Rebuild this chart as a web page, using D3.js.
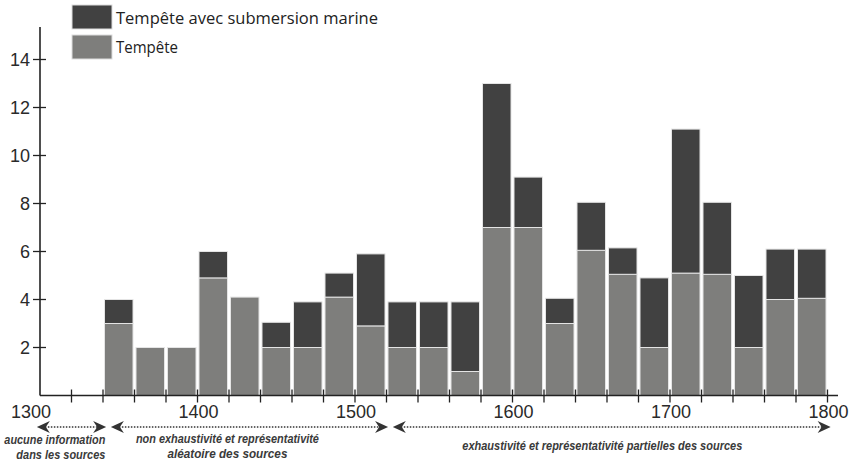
<!DOCTYPE html>
<html>
  <head>
    <meta charset="utf-8">
    <style>
    body { margin: 0; background: #fff; }
    #chart-area svg { display: block; }
    .tick-label { font-family: "Liberation Sans", Arial, sans-serif; font-size: 18px; fill: #2a2a2a; }
    .legend-label { font-family: "Open Sans", "Noto Sans", sans-serif; font-size: 16px; fill: #222; }
    .note { font-family: "Liberation Sans", Arial, sans-serif; font-size: 13px;
            font-weight: bold; font-style: italic; fill: #3a3a3a; }
    </style>
  </head>
  <body>
    <div id="chart-area"></div>

    <script src="https://d3js.org/d3.v7.min.js"></script>
    <script>
      // 20-year periods (start year)
      const periods = [1340, 1360, 1380, 1400, 1420, 1440, 1460, 1480, 1500, 1520, 1540, 1560,
                       1580, 1600, 1620, 1640, 1660, 1680, 1700, 1720, 1740, 1760, 1780];
      const tempete = [3, 2, 2, 4.9, 4.1, 2, 2, 4.1, 2.9, 2, 2, 1,
                       7, 7, 3, 6.05, 5.05, 2, 5.1, 5.05, 2, 4, 4.05];
      const submersion = [1, 0, 0, 1.1, 0, 1.05, 1.9, 1, 3, 1.9, 1.9, 2.9,
                          6, 2.1, 1.05, 2, 1.1, 2.9, 6, 3, 3, 2.1, 2.05];
      const yTicks = [2, 4, 6, 8, 10, 12, 14];
      const xTicks = [1300, 1400, 1500, 1600, 1700, 1800];
      const seriesNames = ["Tempête avec submersion marine", "Tempête"];
      const notes = [
        { from: 1298, to: 1342, at: 1341.5, anchor: "end", dy: 444,
          lines: ["aucune information", "dans les sources"], widths: [101, 89] },
        { from: 1345, to: 1521, at: 1419, anchor: "middle", dy: 443,
          lines: ["non exhaustivité et représentativité", "aléatoire des sources"], widths: [183, 120] },
        { from: 1524, to: 1802, at: 1657, anchor: "middle", dy: 450,
          lines: ["exhaustivité et représentativité partielles des sources"], widths: [280] }
      ];

      const width = 851;
      const height = 462;
      const darkColor = "#414141";
      const greyColor = "#7e7e7c";

      const svg = d3.select("#chart-area")
        .append("svg")
          .attr("width", width)
          .attr("height", height);

      const x = d3.scaleLinear().domain([1300, 1800]).range([40, 827.5]);
      const y = d3.scaleLinear().domain([0, 14]).range([395.5, 59.5]);
      const binW = x(1320) - x(1300);

      const data = periods.map((p, i) => ({ start: p, tempete: tempete[i], submersion: submersion[i] }));

      // grey part (Tempête)
      svg.append("g").selectAll("rect")
        .data(data)
        .join("rect")
          .attr("x", d => x(d.start) + 1.5)
          .attr("width", binW - 3)
          .attr("y", d => y(d.tempete))
          .attr("height", d => y(0) - y(d.tempete))
          .attr("fill", greyColor)
          .attr("stroke", "#e4e4e4")
          .attr("stroke-width", 1);

      // dark part (submersion) stacked on top
      svg.append("g").selectAll("rect")
        .data(data.filter(d => d.submersion > 0))
        .join("rect")
          .attr("x", d => x(d.start) + 1.5)
          .attr("width", binW - 3)
          .attr("y", d => y(d.tempete + d.submersion))
          .attr("height", d => y(d.tempete) - y(d.tempete + d.submersion))
          .attr("fill", darkColor)
          .attr("stroke", "#e4e4e4")
          .attr("stroke-width", 1);

      // axes
      const axisColor = "#222";
      svg.append("line")
        .attr("x1", x(1300)).attr("x2", 838)
        .attr("y1", y(0)).attr("y2", y(0))
        .attr("stroke", axisColor).attr("stroke-width", 1.6);
      svg.append("line")
        .attr("x1", x(1300)).attr("x2", x(1300))
        .attr("y1", 27).attr("y2", y(0))
        .attr("stroke", axisColor).attr("stroke-width", 1.6);

      const xMinor = d3.range(1320, 1801, 20);
      svg.append("g").selectAll("line")
        .data(xMinor)
        .join("line")
          .attr("x1", d => x(d)).attr("x2", d => x(d))
          .attr("y1", y(0) - 6).attr("y2", y(0) + 7)
          .attr("stroke", axisColor).attr("stroke-width", 1.3);

      svg.append("g").selectAll("line")
        .data(yTicks)
        .join("line")
          .attr("x1", x(1300) - 7).attr("x2", x(1300) + 6)
          .attr("y1", d => y(d)).attr("y2", d => y(d))
          .attr("stroke", axisColor).attr("stroke-width", 1.3);

      svg.append("g").selectAll("text")
        .data(yTicks)
        .join("text")
          .attr("class", "tick-label")
          .attr("x", 30)
          .attr("y", d => y(d) + 6)
          .attr("text-anchor", "end")
          .text(d => d);

      svg.append("g").selectAll("text")
        .data(xTicks)
        .join("text")
          .attr("class", "tick-label")
          .attr("x", d => x(d) + (d === 1300 ? -9 : 1))
          .attr("y", 418)
          .attr("text-anchor", "middle")
          .text(d => d);

      // legend
      const legend = svg.append("g");
      const legendLens = [262, 62];
      [darkColor, greyColor].forEach((c, i) => {
        legend.append("rect")
          .attr("x", 72).attr("y", 5 + i * 30)
          .attr("width", 40).attr("height", 24)
          .attr("fill", c)
          .attr("stroke", "#ddd");
        legend.append("text")
          .attr("class", "legend-label")
          .attr("x", 116).attr("y", 24 + i * 29)
          .attr("textLength", legendLens[i])
          .attr("lengthAdjust", "spacingAndGlyphs")
          .text(seriesNames[i]);
      });

      // dotted arrows + notes
      const arrowY = 427;
      const notesG = svg.append("g");
      notes.forEach(n => {
        const x1 = x(n.from), x2 = x(n.to);
        notesG.append("line")
          .attr("x1", x1 + 8).attr("x2", x2 - 8)
          .attr("y1", arrowY).attr("y2", arrowY)
          .attr("stroke", "#333").attr("stroke-width", 1.4)
          .attr("stroke-dasharray", "1.5,1.5");
        notesG.append("path")
          .attr("d", `M${x1},${arrowY} L${x1 + 13},${arrowY - 6} L${x1 + 9},${arrowY} L${x1 + 13},${arrowY + 6} Z`)
          .attr("fill", "#333");
        notesG.append("path")
          .attr("d", `M${x2},${arrowY} L${x2 - 13},${arrowY - 6} L${x2 - 9},${arrowY} L${x2 - 13},${arrowY + 6} Z`)
          .attr("fill", "#333");
        n.lines.forEach((line, j) => {
          notesG.append("text")
            .attr("class", "note")
            .attr("x", x(n.at))
            .attr("y", n.dy + j * 15)
            .attr("text-anchor", n.anchor)
            .attr("textLength", n.widths[j])
            .attr("lengthAdjust", "spacingAndGlyphs")
            .text(line);
        });
      });
    </script>
  </body>
</html>
